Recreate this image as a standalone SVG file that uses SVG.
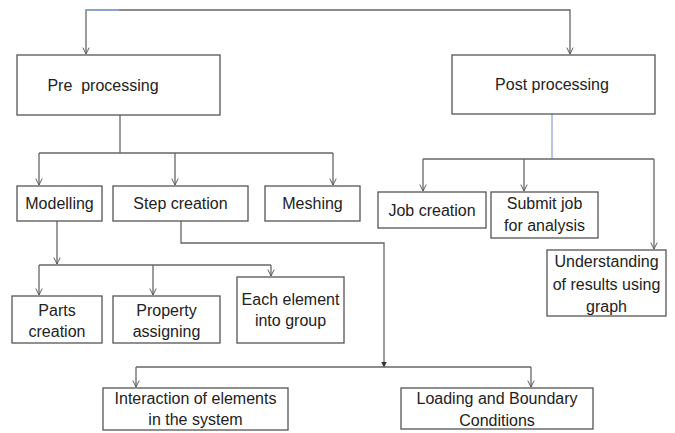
<svg xmlns="http://www.w3.org/2000/svg" width="675" height="433" viewBox="0 0 675 433">
<defs>
<marker id="arr" viewBox="0 0 10 10" refX="9" refY="5" markerWidth="8" markerHeight="8" markerUnits="userSpaceOnUse" orient="auto">
<path d="M1,1 L9,5 L1,9" fill="none" stroke="#555" stroke-width="1.2"/>
</marker>
<marker id="tri" viewBox="0 0 10 10" refX="9" refY="5" markerWidth="6" markerHeight="6" markerUnits="userSpaceOnUse" orient="auto">
<path d="M0,0 L10,5 L0,10 Z" fill="#333"/>
</marker>
</defs>
<style>
rect{fill:#fff;stroke:#555;stroke-width:1.3}
text{font-family:"Liberation Sans",Arial,sans-serif;font-size:16px;fill:#222;text-anchor:middle}
.c path{fill:none;stroke:#666;stroke-width:1.3}
.c path.b{stroke:#8fa8e0}
</style>
<rect x="0" y="0" width="675" height="433" style="fill:#fff;stroke:none"/>
<g class="c" id="connectors">
<path d="M119,10 H570 V54" marker-end="url(#arr)"/>
<path d="M119,10 H86 V54" marker-end="url(#arr)"/>
<path class="b" d="M86,10 H119"/>
<path d="M120,115 V153"/>
<path d="M39,153 H333"/>
<path d="M39,153 V185" marker-end="url(#arr)"/>
<path d="M175,153 V185" marker-end="url(#arr)"/>
<path d="M333,153 V185" marker-end="url(#arr)"/>
<path class="b" d="M552,114 V159"/>
<path d="M423,159 H654"/>
<path d="M423,159 V191" marker-end="url(#arr)"/>
<path d="M524,159 V191" marker-end="url(#arr)"/>
<path d="M654,159 V249" marker-end="url(#arr)"/>
<path d="M57,221 V264" marker-end="url(#arr)"/>
<path d="M39,265 H271"/>
<path d="M39,265 V295" marker-end="url(#arr)"/>
<path d="M153,265 V295" marker-end="url(#arr)"/>
<path d="M271,265 V276" marker-end="url(#arr)"/>
<path d="M181,221 V243 H384 V367" marker-end="url(#tri)"/>
<path d="M136,367 H531"/>
<path d="M136,367 V387" marker-end="url(#arr)"/>
<path d="M531,367 V387" marker-end="url(#arr)"/>
</g>
<g id="pre"><rect x="17" y="55" width="203" height="60"/><text x="103" y="91" style="text-anchor:middle" xml:space="preserve">Pre  processing</text></g>
<g id="post"><rect x="452" y="55" width="203" height="59"/><text x="552" y="90">Post processing</text></g>
<g id="modelling"><rect x="17" y="186" width="85" height="35"/><text x="59.5" y="209">Modelling</text></g>
<g id="step"><rect x="113" y="186" width="135" height="35"/><text x="180.5" y="209">Step creation</text></g>
<g id="meshing"><rect x="265" y="186" width="95" height="35"/><text x="312.5" y="209">Meshing</text></g>
<g id="job"><rect x="378" y="192" width="108" height="36"/><text x="432" y="216">Job creation</text></g>
<g id="submit"><rect x="491" y="192" width="107" height="46"/><text x="544.5" y="209">Submit job</text><text x="544.5" y="231">for analysis</text></g>
<g id="understanding"><rect x="547" y="250" width="119" height="66"/><text x="606.5" y="267">Understanding</text><text x="606.5" y="290">of results using</text><text x="606.5" y="312">graph</text></g>
<g id="parts"><rect x="12" y="296" width="90" height="47"/><text x="57" y="316">Parts</text><text x="57" y="337">creation</text></g>
<g id="property"><rect x="113" y="296" width="107" height="47"/><text x="166.5" y="316">Property</text><text x="166.5" y="337">assigning</text></g>
<g id="each"><rect x="237" y="277" width="107" height="66"/><text x="290.5" y="305">Each element</text><text x="290.5" y="326">into group</text></g>
<g id="interaction"><rect x="103" y="388" width="185" height="42"/><text x="195.5" y="404">Interaction of elements</text><text x="195.5" y="425">in the system</text></g>
<g id="loading"><rect x="401" y="388" width="192" height="41"/><text x="497" y="404">Loading and Boundary</text><text x="497" y="426">Conditions</text></g>
</svg>
